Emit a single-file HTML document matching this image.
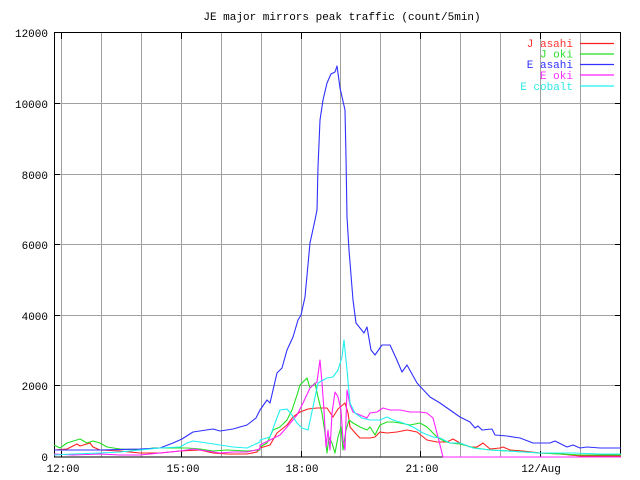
<!DOCTYPE html>
<html><head><meta charset="utf-8"><style>
html,body{margin:0;padding:0;background:#fff}
svg{display:block}
text{font-family:"Liberation Mono","DejaVu Sans Mono",monospace;font-size:11px;fill:#000}
</style></head><body>
<svg width="640" height="480" viewBox="0 0 640 480" xmlns="http://www.w3.org/2000/svg">
<rect width="640" height="480" fill="#fff"/>
<g stroke="#a0a0a0" stroke-width="1" shape-rendering="crispEdges">
<line x1="54.5" y1="385.5" x2="621" y2="385.5"/>
<line x1="54.5" y1="315.5" x2="621" y2="315.5"/>
<line x1="54.5" y1="244.5" x2="621" y2="244.5"/>
<line x1="54.5" y1="174.5" x2="621" y2="174.5"/>
<line x1="54.5" y1="103.5" x2="621" y2="103.5"/>
<line x1="61.5" y1="33" x2="61.5" y2="457"/>
<line x1="101.5" y1="33" x2="101.5" y2="457"/>
<line x1="141.5" y1="33" x2="141.5" y2="457"/>
<line x1="181.5" y1="33" x2="181.5" y2="457"/>
<line x1="221.5" y1="33" x2="221.5" y2="457"/>
<line x1="261.5" y1="33" x2="261.5" y2="457"/>
<line x1="301.5" y1="33" x2="301.5" y2="457"/>
<line x1="340.5" y1="33" x2="340.5" y2="457"/>
<line x1="380.5" y1="33" x2="380.5" y2="457"/>
<line x1="420.5" y1="33" x2="420.5" y2="457"/>
<line x1="460.5" y1="33" x2="460.5" y2="457"/>
<line x1="500.5" y1="33" x2="500.5" y2="457"/>
<line x1="540.5" y1="33" x2="540.5" y2="457"/>
<line x1="580.5" y1="33" x2="580.5" y2="457"/>
</g>
<g stroke="#000" stroke-width="1" shape-rendering="crispEdges">
<rect x="54.5" y="32.5" width="566" height="424.5" fill="none"/>
<path d="M54 385.5h6M615 385.5h6M54 315.5h6M615 315.5h6M54 244.5h6M615 244.5h6M54 174.5h6M615 174.5h6M54 103.5h6M615 103.5h6M54 32.5h6M615 32.5h6"/>
<path d="M61.5 457v-6M61.5 33v6M181.5 457v-6M181.5 33v6M301.5 457v-6M301.5 33v6M420.5 457v-6M420.5 33v6M540.5 457v-6M540.5 33v6"/>
</g>
<text x="342" y="20" text-anchor="middle">JE major mirrors peak traffic (count/5min)</text>
<g text-anchor="end">
<text x="48" y="461">0</text>
<text x="48" y="390">2000</text>
<text x="48" y="320">4000</text>
<text x="48" y="249">6000</text>
<text x="48" y="179">8000</text>
<text x="48" y="108">10000</text>
<text x="48" y="37">12000</text>
</g>
<g text-anchor="middle">
<text x="63" y="472">12:00</text>
<text x="183" y="472">15:00</text>
<text x="302" y="472">18:00</text>
<text x="422" y="472">21:00</text>
<text x="541" y="472">12/Aug</text>
</g>
<g text-anchor="end" style="font-size:10.5px">
<text x="573" y="47" style="fill:#ff3030">J asahi</text>
<text x="573" y="57.5" style="fill:#30e030">J oki</text>
<text x="573" y="68" style="fill:#3030ff">E asahi</text>
<text x="573" y="79" style="fill:#ff30ff">E oki</text>
<text x="573" y="90" style="fill:#30e8e8">E cobalt</text>
</g>
<g stroke-width="1.2">
<line x1="580" y1="43.5" x2="614" y2="43.5" stroke="#ff2020"/>
<line x1="580" y1="54" x2="614" y2="54" stroke="#20e020"/>
<line x1="580" y1="64.5" x2="614" y2="64.5" stroke="#3030ff"/>
<line x1="580" y1="75" x2="614" y2="75" stroke="#ff20ff"/>
<line x1="580" y1="86" x2="614" y2="86" stroke="#20f0f0"/>
</g>
<g fill="none" stroke-width="1.1" stroke-linejoin="round">
<polyline stroke="#ff2020" points="54,450 67,449 77,444 80,446 90,443 93,447 100,450 120,451 140,453 160,453 180,451 200,450 213,453 227,454 247,454 257,452 260,448 270,445 277,433 287,425 293,417 300,412 308,409 317,408 327,408 333,417 338,409 345,403 348,413 350,427 357,435 360,438 370,438 375,437 380,432 387,433 397,432 407,430 417,432 427,440 437,442 447,442 453,439 460,443 470,447 477,447 483,443 490,449 500,448 503,447 510,450 523,451 540,453 560,454 580,456 600,456 621,456"/>
<polyline stroke="#20e020" points="54,445 60,448 67,443 80,439 87,443 93,441 100,443 107,447 120,449 140,450 153,448 173,448 187,448 200,449 213,451 227,450 247,451 260,450 260,447 267,443 273,430 280,427 287,420 292,410 297,395 300,385 307,378 310,388 315,383 318,397 322,413 325,433 327,453 329,437 332,443 335,453 338,437 341,427 343,450 346,430 349,420 353,423 360,427 367,430 370,427 375,435 380,425 387,422 393,422 400,423 410,425 420,423 427,427 437,437 444,441 450,443 460,444 475,448 490,450 510,451 540,453 580,455 621,455"/>
<polyline stroke="#3030ff" points="54,450 100,450 140,449 160,448 173,443 182,439 193,432 213,429 220,431 233,429 247,425 256,418 260,410 267,400 270,403 277,373 282,368 287,350 293,337 298,320 301,315 305,297 310,243 315,220 317,210 318,167 320,120 323,100 327,83 331,74 335,72 337,66 340,88 345,110 346,157 347,217 349,250 353,300 356,323 364,333 367,327 371,350 375,355 382,345 390,345 396,358 402,372 407,365 417,383 430,397 440,403 450,410 460,417 470,422 475,428 478,426 482,430 492,429 495,435 507,436 520,438 533,443 550,443 555,441 567,447 573,445 580,448 587,447 600,448 621,448"/>
<polyline stroke="#ff20ff" points="54,454 73,455 100,454 120,455 140,455 160,453 180,451 193,449 207,451 220,453 233,452 247,452 260,449 260,445 270,440 280,435 287,427 297,415 303,403 310,388 317,382 320,360 322,383 324,410 326,447 328,430 330,450 332,413 335,392 338,397 341,410 343,440 345,450 347,390 350,405 353,412 360,415 367,418 370,413 377,412 383,408 390,410 400,410 410,412 420,412 427,413 433,418 438,437 443,457 621,457"/>
<polyline stroke="#20f0f0" points="54,455 73,454 100,453 120,452 140,450 160,448 180,447 187,443 193,441 207,443 220,445 233,447 247,448 260,442 260,440 270,437 275,423 280,410 287,409 292,415 297,423 302,428 308,430 313,407 318,383 327,378 333,377 338,370 342,357 344,340 347,370 350,403 355,413 362,418 370,420 380,420 387,417 393,420 403,423 413,427 423,433 433,437 440,438 450,443 460,443 473,448 490,450 507,451 540,453 573,453 600,454 621,454"/>
</g>
</svg>
</body></html>
